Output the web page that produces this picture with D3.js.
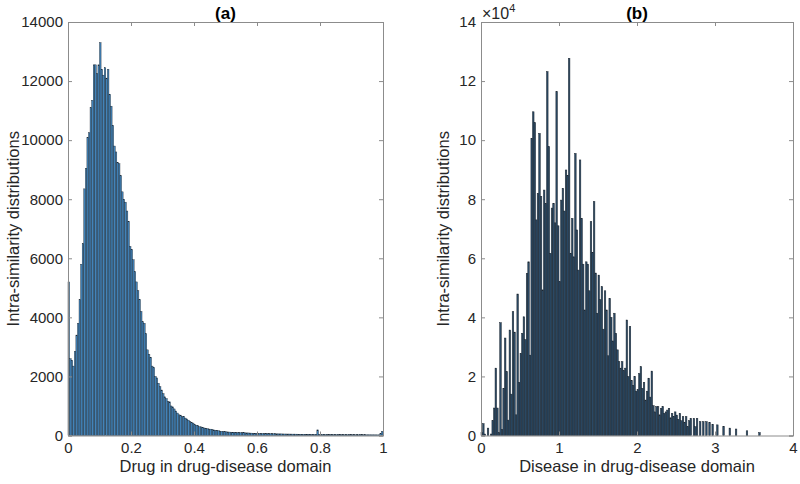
<!DOCTYPE html>
<html>
<head>
<meta charset="utf-8">
<script src="https://cdn.jsdelivr.net/npm/d3@7"></script>
<style>
  body { margin: 0; background: #fff; }
  svg { display: block; font-family: "Liberation Sans", Arial, Helvetica, sans-serif; }
</style>
</head>
<body>
<svg id="chart" width="800" height="484"></svg>
<script>
// ---------- Panel (a) data: histogram, bin width 0.005 over [0,1] ----------
const binWidthA = 0.005;
const countsA = [
  5200, 2600, 2550, 2350, 2850, 3400, 3800, 4600, 5800, 6500,
  8350, 9050, 10100, 10250, 11100, 11350, 12550, 12550, 12250, 12550,
  13300, 12400, 12200, 12450, 12100, 12400, 11550, 11150, 10500, 9800,
  9600, 9250, 9200, 8800, 8250, 8000, 7900, 7600, 7250, 6400,
  6300, 5950, 5550, 5200, 4900, 4600, 4200, 3850, 3800, 3450,
  2900, 2750, 2650, 2350, 2300, 2000, 1950, 1770, 1650, 1540,
  1420, 1310, 1250, 1150, 1140, 1000, 970, 900, 830, 760,
  700, 690, 640, 650, 590, 560, 520, 470, 435, 420,
  365, 350, 330, 300, 290, 275, 255, 245, 230, 220,
  215, 205, 190, 180, 170, 162, 150, 142, 135, 128,
  125, 120, 116, 112, 110, 108, 104, 100, 102, 97,
  95, 92, 90, 88, 86, 83, 80, 78, 77, 75,
  72, 71, 70, 68, 66, 65, 64, 63, 61, 60,
  58, 58, 56, 55, 55, 54, 52, 51, 50, 50,
  49, 48, 47, 46, 46, 45, 44, 43, 43, 42,
  41, 41, 40, 40, 39, 38, 38, 37, 190, 36,
  36, 35, 35, 34, 34, 33, 33, 32, 32, 31,
  31, 30, 30, 29, 29, 28, 28, 28, 27, 27,
  26, 26, 26, 25, 25, 25, 24, 24, 24, 23,
  23, 23, 22, 22, 22, 21, 21, 21, 60, 140
];
const xTicksA = [0, 0.2, 0.4, 0.6, 0.8, 1];
const xTickLabelsA = ["0", "0.2", "0.4", "0.6", "0.8", "1"];
const yTicksA = [0, 2000, 4000, 6000, 8000, 10000, 12000, 14000];

// ---------- Panel (b) data: histogram, bin width 0.02 over [0,4], counts in units of 10^4 ----------
const binWidthB = 0.02;
const countsB = [
  0.1, 0.4, 0.05, 0, 0.25, 0, 0.05, 0.5, 0.93, 2.28,
  0.93, 0.1, 3.82, 0.2, 1.6, 3.3, 2.16, 0.52, 3.57, 1.4,
  4.19, 3.5, 0.7, 4.79, 1.8, 2.78, 3.46, 4.02, 3.25, 5.49,
  5.88, 2.72, 10.06, 10.96, 10.59, 7.3, 8.2, 10.23, 8.1, 4.93,
  8.31, 7.86, 12.32, 9.78, 6.17, 7.7, 7.86, 7.2, 11.64, 7.1,
  5.21, 7.97, 8.37, 7.6, 8.99, 8.8, 12.77, 6.17, 7.35, 6.05,
  9.55, 6.96, 5.6, 9.33, 7.35, 5.8, 4.25, 5.88, 5.8, 4.9,
  7.24, 6.2, 7.92, 5.5, 4.14, 5.43, 4.6, 5.04, 3.6, 4.9,
  4.25, 2.7, 4.64, 4.0, 3.2, 4.14, 3.46, 2.9, 2.5, 2.28,
  2.5, 2.2, 2.28, 3.91, 2.0, 3.69, 1.86, 1.7, 2.0, 1.5,
  1.55, 2.1, 2.33, 1.6, 1.8, 1.2, 1.5, 1.94, 1.3, 2.18,
  1.01, 0.8, 0.98, 0.98, 0.7, 0.92, 0.98, 0.75, 0.8, 0.86,
  0.92, 0.6, 0.75, 0.65, 0.8, 0.69, 0.55, 0.75, 0.5, 0.64,
  0.45, 0.64, 0.3, 0.5, 0.58, 0, 0.58, 0.3, 0.58, 0,
  0.47, 0, 0.47, 0, 0.47, 0, 0.44, 0, 0.38, 0,
  0, 0.36, 0, 0, 0, 0.31, 0, 0, 0, 0.25,
  0, 0, 0, 0.22, 0, 0, 0, 0, 0, 0,
  0.16, 0, 0, 0, 0, 0, 0, 0, 0.1, 0,
  0, 0, 0, 0, 0, 0, 0, 0, 0, 0,
  0, 0, 0, 0, 0, 0, 0, 0, 0, 0
];
const xTicksB = [0, 1, 2, 3, 4];
const yTicksB = [0, 2, 4, 6, 8, 10, 12, 14];

const titles = ["(a)", "(b)"];
const xLabels = ["Drug in drug-disease domain", "Disease in drug-disease domain"];
const yLabel = "Intra-similarity distributions";

// ---------- drawing ----------
const svg = d3.select("#chart");
const axisColor = "#8c8c8c";
const textColor = "#262626";

function panel(opts) {
  const { x, y, counts, bw, xTicks, xFmt, yTicks, fill, stroke, strokeW, title, xLabel, yLabelX } = opts;
  const g = svg.append("g");
  const [x0, x1] = x.range();
  const [y0, y1] = y.range();

  g.append("g").selectAll("rect")
    .data(counts.map((c, i) => ({ lo: i * bw, hi: (i + 1) * bw, c })).filter(d => d.c > 0))
    .join("rect")
    .attr("x", d => x(d.lo))
    .attr("width", d => x(d.hi) - x(d.lo))
    .attr("y", d => y(d.c))
    .attr("height", d => y(0) - y(d.c))
    .attr("fill", fill)
    .attr("stroke", stroke)
    .attr("stroke-width", strokeW);

  const bottom = d3.axisBottom(x).tickValues(xTicks).tickFormat(xFmt).tickSize(-4).tickPadding(7);
  const top = d3.axisTop(x).tickValues(xTicks).tickFormat("").tickSize(-4);
  const left = d3.axisLeft(y).tickValues(yTicks).tickFormat(d3.format("d")).tickSize(-4).tickPadding(5);
  const right = d3.axisRight(y).tickValues(yTicks).tickFormat("").tickSize(-4);

  const style = sel => {
    sel.selectAll("path, line").attr("stroke", axisColor).attr("stroke-width", 1);
    sel.selectAll("text").attr("fill", textColor).attr("font-size", 15)
      .attr("font-family", "'Liberation Sans', Arial, sans-serif");
  };
  g.append("g").attr("transform", `translate(0,${y0})`).call(bottom).call(style);
  g.append("g").attr("transform", `translate(0,${y1})`).call(top).call(style);
  g.append("g").attr("transform", `translate(${x0},0)`).call(left).call(style);
  g.append("g").attr("transform", `translate(${x1},0)`).call(right).call(style);

  g.append("text").attr("x", (x0 + x1) / 2).attr("y", 19)
    .attr("text-anchor", "middle").attr("font-size", 17).attr("font-weight", "bold")
    .attr("fill", "#000").text(title);
  g.append("text").attr("x", (x0 + x1) / 2).attr("y", 472)
    .attr("text-anchor", "middle").attr("font-size", 16.5).attr("fill", textColor).text(xLabel);
  g.append("text").attr("transform", `translate(${yLabelX},${(y0 + y1) / 2}) rotate(-90)`)
    .attr("text-anchor", "middle").attr("font-size", 16.5).attr("fill", textColor).text(yLabel);
  return g;
}

const xA = d3.scaleLinear().domain([0, 1]).range([68, 383]);
const yA = d3.scaleLinear().domain([0, 14000]).range([435.5, 22]);
panel({
  x: xA, y: yA, counts: countsA, bw: binWidthA,
  xTicks: xTicksA, xFmt: (d, i) => xTickLabelsA[i], yTicks: yTicksA,
  fill: "#4283b9", stroke: "#1b2631", strokeW: 0.4,
  title: titles[0], xLabel: xLabels[0], yLabelX: 19
});

const xB = d3.scaleLinear().domain([0, 4]).range([481, 793]);
const yB = d3.scaleLinear().domain([0, 14]).range([435.5, 22]);
const gB = panel({
  x: xB, y: yB, counts: countsB, bw: binWidthB,
  xTicks: xTicksB, xFmt: d3.format("d"), yTicks: yTicksB,
  fill: "#2b4a66", stroke: "#1c2630", strokeW: 0.5,
  title: titles[1], xLabel: xLabels[1], yLabelX: 449
});

const expo = gB.append("text").attr("x", 482).attr("y", 19).attr("font-size", 16).attr("fill", textColor);
expo.append("tspan").text("\u00d710");
expo.append("tspan").attr("font-size", 11).attr("dy", -7).text("4");
</script>
</body>
</html>
